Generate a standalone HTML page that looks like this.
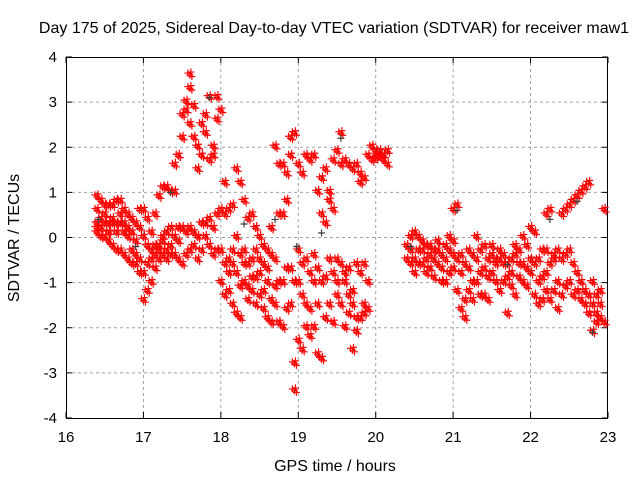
<!DOCTYPE html>
<html><head><meta charset="utf-8"><style>
body{margin:0;background:#fff;}
svg{display:block;font-family:"Liberation Sans",sans-serif;}
</style></head><body>
<svg id="chart" width="640" height="480">
<text x="334" y="33" text-anchor="middle" font-size="16">Day 175 of 2025, Sidereal Day-to-day VTEC variation (SDTVAR) for receiver maw1</text>
<text x="335" y="471" text-anchor="middle" font-size="16">GPS time / hours</text>
<text transform="translate(19,238) rotate(-90)" text-anchor="middle" font-size="16">SDTVAR / TECUs</text>
<g id="grid"></g>
<g id="axes"></g>
<g id="marks"></g>
</svg>
<script>
const xTicks=[16,17,18,19,20,21,22,23];
const yTicks=[-4,-3,-2,-1,0,1,2,3,4];
const obsTimes=[16.4,16.45,16.5,16.55,16.6,16.65,16.7,16.75,16.8,16.85,16.9,16.95,17.0,17.05,17.1,17.15,17.2,17.25,17.3,17.35,17.4,17.45,17.5,17.55,17.6,17.65,17.7,17.75,17.8,17.85,17.9,17.95,18.0,18.05,18.1,18.15,18.2,18.25,18.3,18.35,18.4,18.45,18.5,18.55,18.6,18.65,18.7,18.75,18.8,18.85,18.9,18.95,19.0,19.05,19.1,19.15,19.2,19.25,19.3,19.35,19.4,19.45,19.5,19.55,19.6,19.65,19.7,19.75,19.8,19.85,19.9,19.95,20.0,20.05,20.1,20.15,
20.4,20.45,20.5,20.55,20.6,20.65,20.7,20.75,20.8,20.85,20.9,20.95,21.0,21.05,21.1,21.15,21.2,21.25,21.3,21.35,21.4,21.45,21.5,21.55,21.6,21.65,21.7,21.75,21.8,21.85,21.9,21.95,22.0,22.05,22.1,22.15,22.2,22.25,22.3,22.35,22.4,22.45,22.5,22.55,22.6,22.65,22.7,22.75,22.8,22.85,22.9,22.95];
const obsValues=[
[0.9,0.6,0.3,0.2,0.1],[0.8,0.4,0.2,0.0],[0.7,0.5,0.3,0.0],[0.7,0.3,0.1,-0.1],[0.7,0.4,0.3,-0.2],[0.8,0.3,0.1,-0.3],[0.8,0.5,0.3,-0.3],[0.6,0.3,0.1,-0.4],[0.5,0.2,0.0,-0.5],[0.4,0.1,-0.3,-0.6],[0.3,-0.1,-0.4,-0.6],[0.6,0.2,-0.5,-0.8],
[0.6,0.0,-0.8,-1.4],[0.4,-0.2,-0.6,-1.2],[0.1,-0.3,-0.5,-1.0],[0.5,-0.2,-0.4,-0.7],[0.9,-0.2,-0.3,-0.5],[1.1,0.0,-0.1,-0.4],[1.1,0.1,-0.3,-0.5],[1.0,0.2,-0.2,-0.4],[1.0,1.6,0.0,-0.4],[1.8,0.2,-0.1,-0.5],[2.7,2.2,0.2,-0.6],[3.0,2.8,0.1,-0.4],[3.6,3.3,2.5,0.2,-0.3],[2.9,2.2,0.1,-0.2],[2.0,1.5,0.0,-0.5],[2.5,1.8,0.3,-0.3],[2.7,2.3,0.3,0.0],[3.1,1.7,0.4,-0.2],[1.8,2.0,0.2,-0.4],[3.1,2.6,0.5,-0.3],
[2.8,0.6,-0.3,-1.0],[1.2,0.5,-0.6,-1.3],[0.6,-0.5,-1.2,-0.8],[0.7,-0.3,-1.5,-0.6],[1.5,0.0,-0.8,-1.7],[1.2,-0.4,-1.1,-1.8],[0.8,-0.3,-1.0,-0.6],[0.4,-0.6,-1.1,-1.4],[0.5,-0.5,-1.2,-0.9],[0.2,-0.3,-0.9,-1.5],[0.0,-0.8,-1.3,-0.5],[-0.2,-0.6,-1.2,-1.6],[-0.3,-1.0,-1.8,-0.7],[0.2,-0.4,-1.4,-1.9],[2.0,-0.5,-1.5,-1.1],[1.6,0.5,-1.0,-1.9],[1.6,0.5,-1.0,-2.0],[1.4,0.8,-0.7,-1.6],[2.2,1.8,-0.7,-1.5],[2.3,-1.0,-2.8,-3.4],
[1.6,-0.3,-1.0,-2.3],[1.4,-0.6,-1.3,-2.5],[1.8,-0.5,-1.5,-2.0],[1.7,-0.8,-1.6,-2.2],[1.8,-1.0,-2.0,-0.4],[1.0,-0.7,-1.5,-2.6],[1.3,0.5,-1.0,-2.7],[1.5,0.3,-0.9,-1.8],[1.0,0.8,-0.5,-1.5],[1.7,0.6,-0.8,-1.9],[1.9,-0.5,-1.3,-1.0],[2.3,1.6,-0.6,-1.5],[1.7,-1.0,-0.8,-2.0],[1.6,-0.7,-1.3,-1.7],[1.5,-1.5,-2.5,-1.2],[1.6,-0.6,-1.8,-2.1],[1.4,1.2,-0.8,-1.8],[1.3,-0.6,-1.5,-1.7],[1.8,-1.0,-1.6],[1.7,2.0],[1.9,1.75],[1.8,1.9],[1.7,1.8],[1.6,1.9],
[-0.2,-0.5],[-0.3,0.0,-0.6],[-0.5,0.1,-0.8],[-0.3,-0.6,0.0],[-0.3,-0.6,-0.1],[-0.5,-0.2,-0.8],[-0.4,-0.2,-0.7],[-0.5,-0.3,-0.9],[-0.6,-0.3,-0.1],[-0.4,-0.7,-1.0],[-0.5,-0.2,-1.0],[-0.3,0.0,-0.8],[-0.1,0.6,-0.7,-0.4],[0.7,-0.5,-1.2],[-0.8,-1.6,-0.4],[-0.6,-1.4,-1.8],[-1.2,-0.3,-0.7],[-0.4,-1.0,-1.4],[0.0,-0.5,-1.0],[-0.3,-0.8,-1.3],[-0.2,-0.7,-1.3],[-0.5,-0.9,-1.4],[-0.4,-0.8,-0.2],[-0.5,-1.0,-0.6],[-0.5,-1.2,-0.3],[-0.6,-0.4,-1.0],[-0.6,-0.9,-1.7],[-0.5,-0.8,-1.1],[-0.4,-1.3,-0.2],[-0.6,-0.9,-0.3],[0.0,-0.6,-1.0],[-0.2,-0.7,-1.1],[0.2,-0.5,-0.8],[0.1,-0.6,-1.3],[-0.5,-1.0,-1.5],[-0.3,-0.9,-1.4],[0.5,-0.8,-1.2,-0.3],[0.6,-0.6,-1.4],[-0.5,-1.2,-0.4],[-0.3,-1.0,-1.6],[0.5,-0.5,-1.3],[0.6,-0.4,-1.1],[0.7,-0.3,-1.0],[0.8,-0.6,-1.3],[0.9,-0.8,-1.2],[1.0,-1.0,-1.4],[1.1,-1.2,-1.5],[1.2,-1.3,-1.7],[-2.1,-1.5,-1.0],[-1.7,-1.3,-1.9],[-1.2,-1.8,-1.5],[0.6,-1.9]];
const grayTimes=[16.42,16.9,17.35,17.85,18.3,18.7,18.98,19.3,19.55,20.45,21.05,21.7,22.25,22.6,22.8];
const grayValues=[0.4,-0.2,1.0,3.1,0.3,0.4,-0.2,0.1,2.2,-0.2,0.6,-0.6,0.4,0.8,-2.1];

const L=66,R=608,T=57,B=418;
const sx=v=>L+(v-16)/7*(R-L);
const sy=v=>B-(v+4)/8*(B-T);
const NS='http://www.w3.org/2000/svg';
function mk(tag,attrs,parent){const e=document.createElementNS(NS,tag);for(const k in attrs)e.setAttribute(k,attrs[k]);parent.appendChild(e);return e;}
const grid=document.getElementById('grid'),axes=document.getElementById('axes'),marks=document.getElementById('marks');
xTicks.forEach(t=>{const x=sx(t);
 if(t>16&&t<23){const g=mk('line',{x1:x,x2:x,y1:T,y2:B,stroke:'#a0a0a0','stroke-dasharray':'3,3'},grid);
 
 }
 mk('line',{x1:x,x2:x,y1:B,y2:B-6,stroke:'#000'},axes);mk('line',{x1:x,x2:x,y1:T,y2:T+6,stroke:'#000'},axes);
 const tx=mk('text',{x:x,y:B+24,'text-anchor':'middle','font-size':'15'},axes);tx.textContent=t;
 
 });
yTicks.forEach(t=>{const y=sy(t);
 if(t>-4&&t<4){const g=mk('line',{x1:L,x2:R,y1:y,y2:y,stroke:'#a0a0a0','stroke-dasharray':'3,3'},grid);
 
 }
 mk('line',{x1:L,x2:L+6,y1:y,y2:y,stroke:'#000'},axes);mk('line',{x1:R,x2:R-6,y1:y,y2:y,stroke:'#000'},axes);
 const tx=mk('text',{x:L-9,y:y+5,'text-anchor':'end','font-size':'15'},axes);tx.textContent=t;
 
 });
const fr=mk('rect',{x:L+0.5,y:T+0.5,width:R-L-1,height:B-T,fill:'none',stroke:'#000'},axes);


function cross(x,y,c){const p=mk('path',{d:`M${x-3.5},${y}h7M${x},${y-3.5}v7`,stroke:c,'stroke-width':'1.2',fill:'none'},marks);
 
 }
obsTimes.forEach((t,i)=>{(obsValues[i]||[]).forEach(v=>{const x=sx(t),y=sy(v);
 cross(x,y,'#ff0000');cross(x+2,y+1.5,'#ff0000');cross(x-2,y-2,'#ff0000');cross(x+1,y-3,'#ff0000');});});
grayTimes.forEach((t,i)=>cross(sx(t),sy(grayValues[i]),'#404040'));
</script>
</body></html>
